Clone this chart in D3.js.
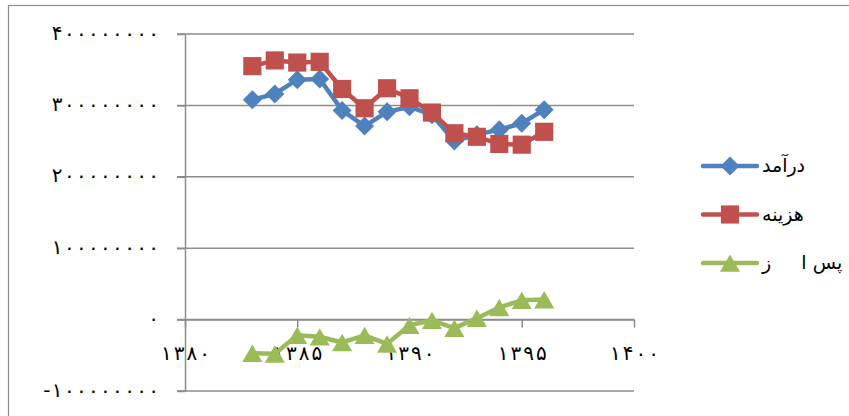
<!DOCTYPE html>
<meta charset="utf-8">
<head>
  <style>
    body { margin: 0; background: #fff; }
    text { font-family: "DejaVu Sans", sans-serif; fill: #000; }
  </style>
<title>درآمد، هزینه و پس انداز</title>
</head>
<body>
<script src="https://cdn.jsdelivr.net/npm/d3@7/dist/d3.min.js"></script>
<script>
  // chart values
  var years   = [1383, 1384, 1385, 1386, 1387, 1388, 1389, 1390, 1391, 1392, 1393, 1394, 1395, 1396];
  var income  = [308e6, 316e6, 336e6, 337e6, 293e6, 271e6, 291e6, 298e6, 287e6, 250e6, 259e6, 266e6, 275e6, 294e6];
  var expense = [355e6, 363e6, 360e6, 361e6, 323e6, 296e6, 324e6, 310e6, 290e6, 261e6, 256e6, 246e6, 245e6, 263e6];
  var saving  = [-47e6, -48e6, -22e6, -24e6, -32e6, -22e6, -34e6, -8e6, -1e6, -12e6, 2e6, 17e6, 27e6, 28e6];
  var seriesNames = ["درآمد", "هزینه", "پس ا     ز"];
  var yTicks = [-100000000, 0, 100000000, 200000000, 300000000, 400000000];
  var xTicks = [1380, 1385, 1390, 1395, 1400];

  var W = 849, H = 416;
  var plot = {left: 185, right: 634, top: 34, bottom: 391};

  // persian digits for tick labels
  function fa(n) {
    return String(n).replace(/\d/g, function (c) { return "۰۱۲۳۴۵۶۷۸۹"[+c]; });
  }
  // spread the digits a little (letter-spacing is ignored for arabic script)
  function spread(gap) {
    return function () {
      var n = this.textContent.length;
      var d = [0];
      for (var i = 1; i < n; i++) d.push(gap);
      return d.join(" ");
    };
  }

  var x = d3.scaleLinear().domain([1380, 1400]).range([plot.left, plot.right]);
  var y = d3.scaleLinear().domain([-100000000, 400000000]).range([plot.bottom, plot.top]);

  var svg = d3.select("body").append("svg")
    .attr("width", W)
    .attr("height", H);

  // chart border
  svg.append("rect")
    .attr("x", 8.5).attr("y", 5.5)
    .attr("width", W).attr("height", H)
    .attr("fill", "none")
    .attr("stroke", "#8c8c8c")
    .attr("stroke-width", 1.2);

  // gridlines (including the little tick on the left)
  svg.append("g").attr("id", "grid")
    .selectAll("line")
    .data(yTicks)
    .enter().append("line")
    .attr("x1", plot.left - 8)
    .attr("x2", plot.right)
    .attr("y1", function (d) { return y(d); })
    .attr("y2", function (d) { return y(d); })
    .attr("stroke", "#8c8c8c")
    .attr("stroke-width", 1.5);

  // y axis
  var yAxis = svg.append("g")
    .attr("id", "y_axis")
    .attr("transform", "translate(" + plot.left + ",0)")
    .call(d3.axisLeft(y).tickValues(yTicks).tickSize(8).tickSizeOuter(0).tickPadding(18).tickFormat(fa));
  yAxis.selectAll("path, line").attr("stroke", "#8c8c8c").attr("stroke-width", 1.5);
  yAxis.selectAll("text")
    .attr("font-size", 20)
    .attr("font-family", "DejaVu Sans")
    .attr("dy", "0.25em")
    .attr("dx", spread(1.3));

  // x axis, crossing at zero
  var xAxis = svg.append("g")
    .attr("id", "x_axis")
    .attr("transform", "translate(0," + y(0) + ")")
    .call(d3.axisBottom(x).tickValues(xTicks).tickSize(8).tickSizeOuter(0).tickFormat(fa));
  xAxis.selectAll("path, line").attr("stroke", "#8c8c8c").attr("stroke-width", 1.5);
  xAxis.selectAll("text")
    .attr("font-size", 20)
    .attr("font-family", "DejaVu Sans")
    .attr("y", 40)
    .attr("dy", 0)
    .attr("dx", spread(2));

  var series = [
    {name: seriesNames[0], values: income,  color: "#4f81bd", shape: "diamond"},
    {name: seriesNames[1], values: expense, color: "#c0504d", shape: "square"},
    {name: seriesNames[2], values: saving,  color: "#9bbb59", shape: "triangle"}
  ];

  function marker(sel, shape, color) {
    if (shape === "diamond") {
      sel.append("path")
        .attr("d", d3.symbol(d3.symbolSquare, 180)())
        .attr("transform", "rotate(45)")
        .attr("fill", color);
    } else if (shape === "square") {
      sel.append("path")
        .attr("d", d3.symbol(d3.symbolSquare, 330)())
        .attr("fill", color);
    } else {
      sel.append("path")
        .attr("d", d3.symbol(d3.symbolTriangle, 175)())
        .attr("transform", "translate(0,3)")
        .attr("fill", color);
    }
  }

  var line = d3.line()
    .x(function (d) { return x(d[0]); })
    .y(function (d) { return y(d[1]); });

  series.forEach(function (s) {
    var pts = years.map(function (yr, i) { return [yr, s.values[i]]; });
    var g = svg.append("g").attr("class", "series");
    g.append("path")
      .datum(pts)
      .attr("d", line)
      .attr("fill", "none")
      .attr("stroke", s.color)
      .attr("stroke-width", 4.5)
      .attr("stroke-linejoin", "round")
      .attr("stroke-linecap", "round");
    g.selectAll(".pt")
      .data(pts)
      .enter().append("g")
      .attr("class", "pt")
      .attr("transform", function (d) { return "translate(" + x(d[0]) + "," + y(d[1]) + ")"; })
      .each(function () { marker(d3.select(this), s.shape, s.color); });
  });

  // legend
  var legend = svg.append("g").attr("id", "legend");
  series.forEach(function (s, i) {
    var ly = 166 + i * 48.5;
    var item = legend.append("g");
    item.append("line")
      .attr("x1", 703).attr("x2", 757)
      .attr("y1", ly).attr("y2", ly)
      .attr("stroke", s.color)
      .attr("stroke-width", 4.5)
      .attr("stroke-linecap", "round");
    marker(item.append("g").attr("transform", "translate(730," + ly + ")"), s.shape, s.color);
    item.append("text")
      .attr("x", 762)
      .attr("y", ly + 6)
      .attr("font-size", 19)
      .style("white-space", "pre")
      .text(s.name);
  });
</script>
</body>
